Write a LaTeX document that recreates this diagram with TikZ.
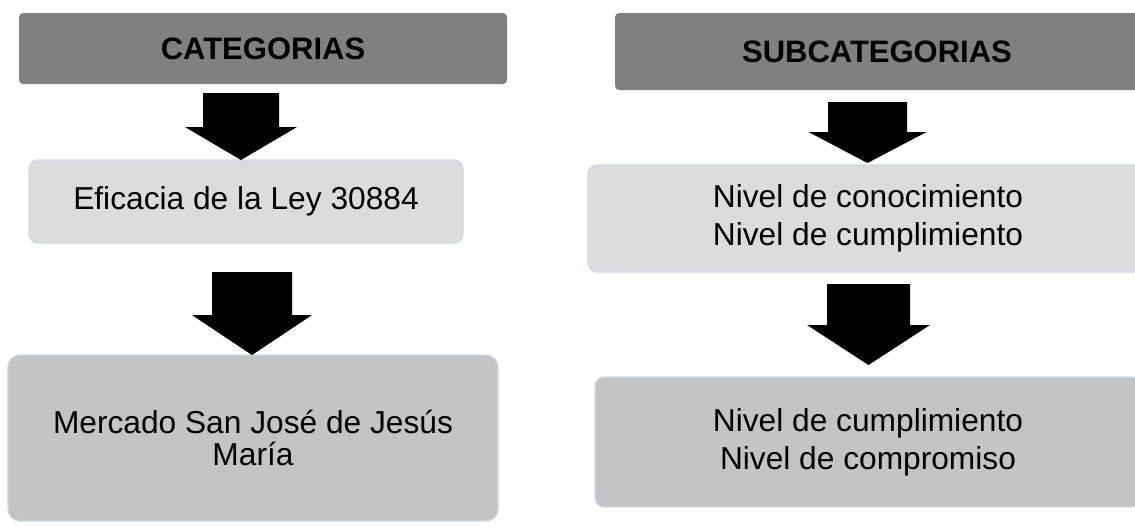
\documentclass[tikz,border=0pt]{standalone}
\usepackage{fontspec}
\setmainfont{Liberation Sans}
\definecolor{cabgris}{HTML}{808080}
\definecolor{claro}{HTML}{DCDCDC}
\definecolor{medio}{HTML}{C4C4C4}
\definecolor{borde}{HTML}{CCD9EA}
% flecha de bloque: x, arriba, inicio punta, vertice, medio ancho cuerpo, medio ancho punta
\newcommand{\flecha}[6]{%
  \fill (#1-#5,#2) -- (#1+#5,#2) -- (#1+#5,#3) -- (#1+#6,#3) -- (#1,#4)
    -- (#1-#6,#3) -- (#1-#5,#3) -- cycle;}

\begin{document}
\begin{tikzpicture}[x=1pt,y=-1pt,
    cabecera/.style={rectangle, rounded corners=4pt, fill=cabgris, inner sep=0pt,
      font=\bfseries\fontsize{31}{37}\selectfont},
    caja/.style={rectangle, rounded corners=9pt, draw=borde, line width=1.2pt,
      inner sep=0pt, align=center, font=\fontsize{31.7}{38}\selectfont}]
	\useasboundingbox (0,0) rectangle (1135,525);
	\clip (0,0) rectangle (1135,525);
	% columna izquierda
	\draw (263,48.5) node [cabecera, minimum width=488pt, minimum height=71pt] (cat) {CATEGORIAS};
	\draw (246,201.5) node [caja, fill=claro, minimum width=434pt, minimum height=83pt] (ley) {Eficacia de la Ley 30884};
	\draw (253,438) node [caja, fill=medio, rounded corners=12pt, minimum width=490pt, minimum height=166pt,
	  font=\fontsize{31.7}{32}\selectfont] (mer) {Mercado San José de Jesús\\María};
	% columna derecha
	\draw (877,51.5) node [cabecera, minimum width=524pt, minimum height=77pt] (sub) {SUBCATEGORIAS};
	\draw (868,218.5) node [caja, fill=claro, minimum width=560pt, minimum height=107pt] (con) {Nivel de conocimiento\\Nivel de cumplimiento};
	\draw (868,442) node [caja, fill=medio, minimum width=546pt, minimum height=130pt] (cum) {Nivel de cumplimiento\\Nivel de compromiso};
	% flechas
	\flecha{241}{93}{127}{160}{38}{56}
	\flecha{252}{272}{315}{355}{40}{60}
	\flecha{867.5}{102}{132}{163}{39.5}{59}
	\flecha{868.5}{284}{325}{365}{41.5}{61.5}
\end{tikzpicture}
\end{document}
